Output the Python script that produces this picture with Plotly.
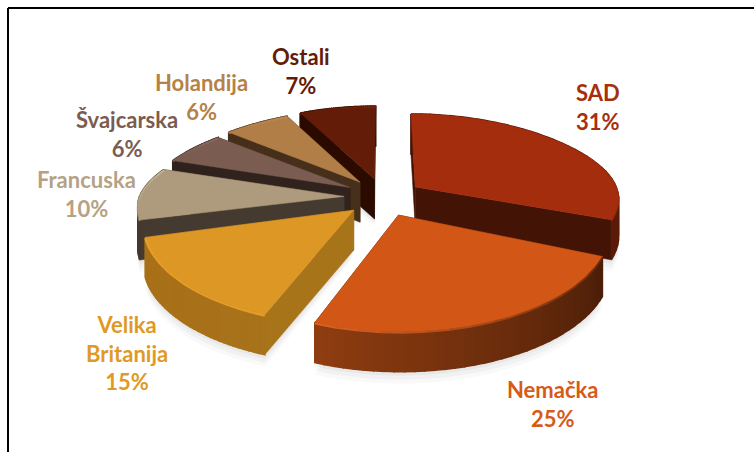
import numpy as np
import plotly.graph_objects as go

names = ["SAD", "Nemačka", "Velika<br>Britanija", "Francuska", "Švajcarska", "Holandija", "Ostali"]
values = [31, 25, 15, 10, 6, 6, 7]

top_colors = ["#a32d0c", "#d25615", "#dd9724", "#ae9a7c", "#7b5c50", "#b07e46", "#631c07"]
text_colors = ["#a62f0c", "#d65a18", "#e09a24", "#b5a285", "#7b5c50", "#b58148", "#631c07"]
wall_colors = ["#431306", "#4d1f08", "#a8741a", "#453a30", "#30221d", "#46301b", "#2b0b00"]
rim_start = ["#43150a", "#4a1e08", "#a8721a", "#453a30", "#30221d", "#46301b", "#2b0b00"]
rim_end = ["#5a1c08", "#8f3d10", "#a87018", "#453a30", "#30221d", "#46301b", "#2b0b00"]
edge_start = ["#a32d0c", "#6b2a0c", "#f4a82c", "#ae9a7c", "#7b5c50", "#b07e46", "#631c07"]
edge_end = ["#a32d0c", "#f06c2c", "#f4a82c", "#c9b99c", "#8d6e62", "#bd8c52", "#6f2409"]
draw_order = [6, 5, 4, 3, 2, 0, 1]
label_x = [598, 552, 127, 86, 127, 201, 301]
label_y = [107, 404, 353, 194, 134, 97, 71]

CX, CY = 383.0, 197.6
RX, RY_BACK, RY_FRONT, EX, EY, DEPTH = 205.0, 73.0, 78.0, 39.0, 19.0, 40.0


def project(theta, r, mid):
    ry = RY_BACK if np.cos(theta) > 0 else RY_FRONT
    dx = EX * np.sin(mid) + r * RX * np.sin(theta)
    dy = -EY * np.cos(mid) - r * ry * np.cos(theta)
    yp = dy + 0.0029 * max(0.0, dy + 20.0) ** 2 * r
    sx = 1.0 + ((0.0011 if dy > 0 else 0.0016) * yp) * r
    return CX + dx * sx, CY + yp


def mix(a, b, t):
    ca = [int(a[i:i + 2], 16) for i in (1, 3, 5)]
    cb = [int(b[i:i + 2], 16) for i in (1, 3, 5)]
    return "rgb(%d,%d,%d)" % tuple(round(x + (y - x) * t) for x, y in zip(ca, cb))


def poly(fig, xs, ys, color, lw=0.5):
    fig.add_trace(go.Scatter(
        x=xs, y=ys, mode="lines", fill="toself", fillcolor=color,
        line=dict(width=lw, color=color), hoverinfo="skip", showlegend=False))


fig = go.Figure()
total = sum(values)
edges = np.concatenate([[0], np.cumsum(values)]) / total * 2 * np.pi

# soft ground shadow
for grow, shade in [(12, "rgba(0,0,0,0.025)"), (8, "rgba(0,0,0,0.03)"), (4, "rgba(0,0,0,0.035)")]:
    for i in range(len(values)):
        t0, t1 = edges[i], edges[i + 1]
        mid = (t0 + t1) / 2
        arc = [project(t, 1, mid) for t in np.linspace(t0, t1, 30)]
        ap = project(0, 0, mid)
        xs = [ap[0]] + [p[0] for p in arc] + [ap[0]]
        ys = [ap[1] + DEPTH + grow * 0.6] + [p[1] + DEPTH + grow for p in arc] + [ap[1] + DEPTH + grow * 0.6]
        poly(fig, xs, ys, shade, 0)

for i in draw_order:
    t0, t1 = edges[i], edges[i + 1]
    mid = (t0 + t1) / 2
    ap = project(0, 0, mid)
    # cut walls
    for t in (t0, t1):
        p = project(t, 1, mid)
        poly(fig, [ap[0], p[0], p[0], ap[0], ap[0]],
             [ap[1], p[1], p[1] + DEPTH, ap[1] + DEPTH, ap[1]], wall_colors[i])
    # rim wall, shaded in short steps
    ts = np.linspace(t0, t1, 37)
    for k in range(len(ts) - 1):
        a, b = project(ts[k], 1, mid), project(ts[k + 1], 1, mid)
        poly(fig, [a[0], b[0], b[0], a[0], a[0]],
             [a[1], b[1], b[1] + DEPTH, a[1] + DEPTH, a[1]],
             mix(rim_start[i], rim_end[i], (k + 0.5) / (len(ts) - 1)), 1.5)
    # top face
    arc = [project(t, 1, mid) for t in np.linspace(t0, t1, 80)]
    xs = [ap[0]] + [p[0] for p in arc] + [ap[0]]
    ys = [ap[1]] + [p[1] for p in arc] + [ap[1]]
    poly(fig, xs, ys, top_colors[i])
    # bevel highlight along the rim, in short steps
    es = np.linspace(t0, t1, 17)
    for k in range(len(es) - 1):
        seg = [project(t, 1, mid) for t in np.linspace(es[k], es[k + 1], 6)]
        fig.add_trace(go.Scatter(
            x=[p[0] for p in seg], y=[p[1] + 1 for p in seg], mode="lines",
            line=dict(width=2, color=mix(edge_start[i], edge_end[i], (k + 0.5) / (len(es) - 1))),
            opacity=0.8, hoverinfo="skip", showlegend=False))

annotations = []
for name, val, x, y, c in zip(names, values, label_x, label_y, text_colors):
    annotations.append(dict(
        x=x, y=y, xref="x", yref="y", text=f"{name}<br>{val}%", showarrow=False,
        align="center", font=dict(family="Lato", size=22, color=c, weight="bold")))

fig.update_layout(
    width=754, height=452, margin=dict(l=0, r=0, t=0, b=0),
    paper_bgcolor="white", plot_bgcolor="white", showlegend=False,
    xaxis=dict(range=[0, 754], visible=False, fixedrange=True),
    yaxis=dict(range=[452, 0], visible=False, fixedrange=True),
    annotations=annotations,
    shapes=[
        dict(type="line", xref="x", yref="y", x0=8, y0=8, x1=754, y1=8, line=dict(color="black", width=2)),
        dict(type="line", xref="x", yref="y", x0=8, y0=8, x1=8, y1=452, line=dict(color="black", width=2)),
    ],
)
fig.write_html("out.html", config={"displayModeBar": False},
               post_script="document.body.style.margin='0';document.body.style.overflow='hidden';")
